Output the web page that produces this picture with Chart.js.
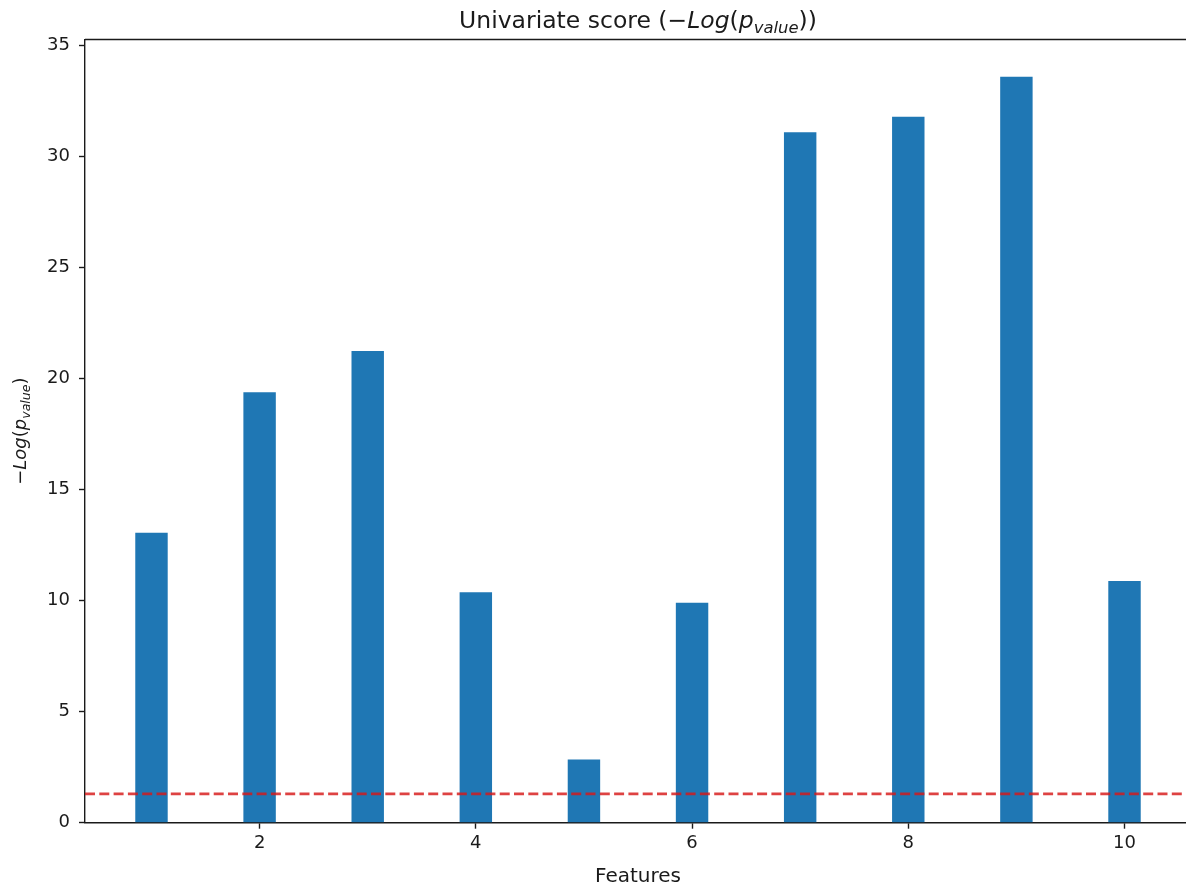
<!DOCTYPE html>
<html>
<head>
<meta charset="utf-8">
<script src="https://cdn.jsdelivr.net/npm/chart.js@4/dist/chart.umd.min.js"></script>
<style>
  html, body { margin: 0; padding: 0; background: #fff; overflow: hidden; }
  #myChart { position: absolute; left: 0; top: 0; }
</style>
</head>
<body>
<canvas id="myChart" width="1200" height="890" style="width:1200px;height:890px"></canvas>
<script>
// values
var features  = [1, 2, 3, 4, 5, 6, 7, 8, 9, 10];
var scores    = [13.05, 19.37, 21.23, 10.37, 2.85, 9.90, 31.07, 31.77, 33.57, 10.88];
var threshold = 1.3;   // -log10(0.05)
var xTicks    = [2, 4, 6, 8, 10];
var yTicks    = [0, 5, 10, 15, 20, 25, 30, 35];
var xRange    = [0.385, 10.615];
var yRange    = [0, 35.25];

var ink  = '#1a1a1a';
var FONT = 'DejaVu Sans';

var titleRuns = [
  { text: 'Univariate score (' },
  { text: '\u2212' },
  { text: 'Log', italic: true },
  { text: '(' },
  { text: 'p', italic: true },
  { text: 'value', italic: true, sub: true },
  { text: ')' },
  { text: ')' }
];
var yLabelRuns = [
  { text: '\u2212' },
  { text: 'Log', italic: true },
  { text: '(' },
  { text: 'p', italic: true },
  { text: 'value', italic: true, sub: true },
  { text: ')' }
];

// draws mathtext-ish runs centred on x, baseline at y
function drawRuns(c, runs, x, y, size) {
  var fontOf = function (r) {
    var s = r.sub ? size * 0.7 : size;
    return (r.italic ? 'italic ' : '') + s + 'px "' + FONT + '"';
  };
  var total = 0;
  runs.forEach(function (r) { c.font = fontOf(r); total += c.measureText(r.text).width; });
  var cx = x - total / 2;
  c.textAlign = 'left';
  c.textBaseline = 'alphabetic';
  c.fillStyle = ink;
  runs.forEach(function (r) {
    c.font = fontOf(r);
    c.fillText(r.text, cx, y + (r.sub ? size * 0.22 : 0));
    cx += c.measureText(r.text).width;
  });
}

var decor = {
  id: 'decor',
  afterDraw: function (chart) {
    var c = chart.ctx, a = chart.chartArea;
    c.save();
    // top spine
    c.strokeStyle = ink;
    c.lineWidth = 1.4;
    c.beginPath();
    c.moveTo(a.left, a.top);
    c.lineTo(a.right + 1, a.top);
    c.stroke();
    // title
    drawRuns(c, titleRuns, (a.left + a.right) / 2, 28, 23.5);
    // y label
    c.translate(26, (a.top + a.bottom) / 2);
    c.rotate(-Math.PI / 2);
    drawRuns(c, yLabelRuns, 0, 0, 18);
    c.restore();
  }
};

var ctx = document.getElementById('myChart').getContext('2d');
var myChart = new Chart(ctx, {
  type: 'bar',
  data: {
    datasets: [{
      type: 'line',
      label: 'threshold',
      data: xRange.map(function (x) { return { x: x, y: threshold }; }),
      borderColor: 'rgba(215,25,25,0.82)',
      borderWidth: 2.7,
      borderDash: [10, 4.3],
      pointRadius: 0,
      order: 0
    }, {
      label: 'score',
      data: features.map(function (f, i) { return { x: f, y: scores[i] }; }),
      backgroundColor: '#1f77b4',
      borderWidth: 0,
      barPercentage: 0.3,
      categoryPercentage: 1,
      order: 1
    }]
  },
  options: {
    responsive: false,
    animation: false,
    devicePixelRatio: 1,
    layout: { padding: { top: 39.5, right: 9, left: 0, bottom: 0 } },
    plugins: { legend: { display: false }, tooltip: { enabled: false } },
    scales: {
      x: {
        type: 'linear',
        min: xRange[0],
        max: xRange[1],
        offset: false,
        z: 1,
        grid: { display: true, offset: false, drawOnChartArea: false, drawTicks: true, tickLength: 6, tickWidth: 1.4, color: ink },
        border: { display: true, color: ink, width: 1.4 },
        ticks: { color: ink, font: { family: FONT, size: 18 }, padding: 4, maxRotation: 0 },
        afterBuildTicks: function (scale) { scale.ticks = xTicks.map(function (v) { return { value: v }; }); },
        afterFit: function (scale) { scale.height = 890 - 822.7; },
        title: { display: true, text: 'Features', color: ink, font: { family: FONT, size: 20 }, padding: { top: 0, bottom: 1 } }
      },
      y: {
        min: yRange[0],
        max: yRange[1],
        z: 1,
        grid: { display: true, drawOnChartArea: false, drawTicks: true, tickLength: 6, tickWidth: 1.4, color: ink },
        border: { display: true, color: ink, width: 1.4 },
        ticks: { color: ink, font: { family: FONT, size: 18 }, padding: 9 },
        afterBuildTicks: function (scale) { scale.ticks = yTicks.map(function (v) { return { value: v }; }); },
        afterFit: function (scale) { scale.width = 85; }
      }
    }
  },
  plugins: [decor]
});
</script>
</body>
</html>
